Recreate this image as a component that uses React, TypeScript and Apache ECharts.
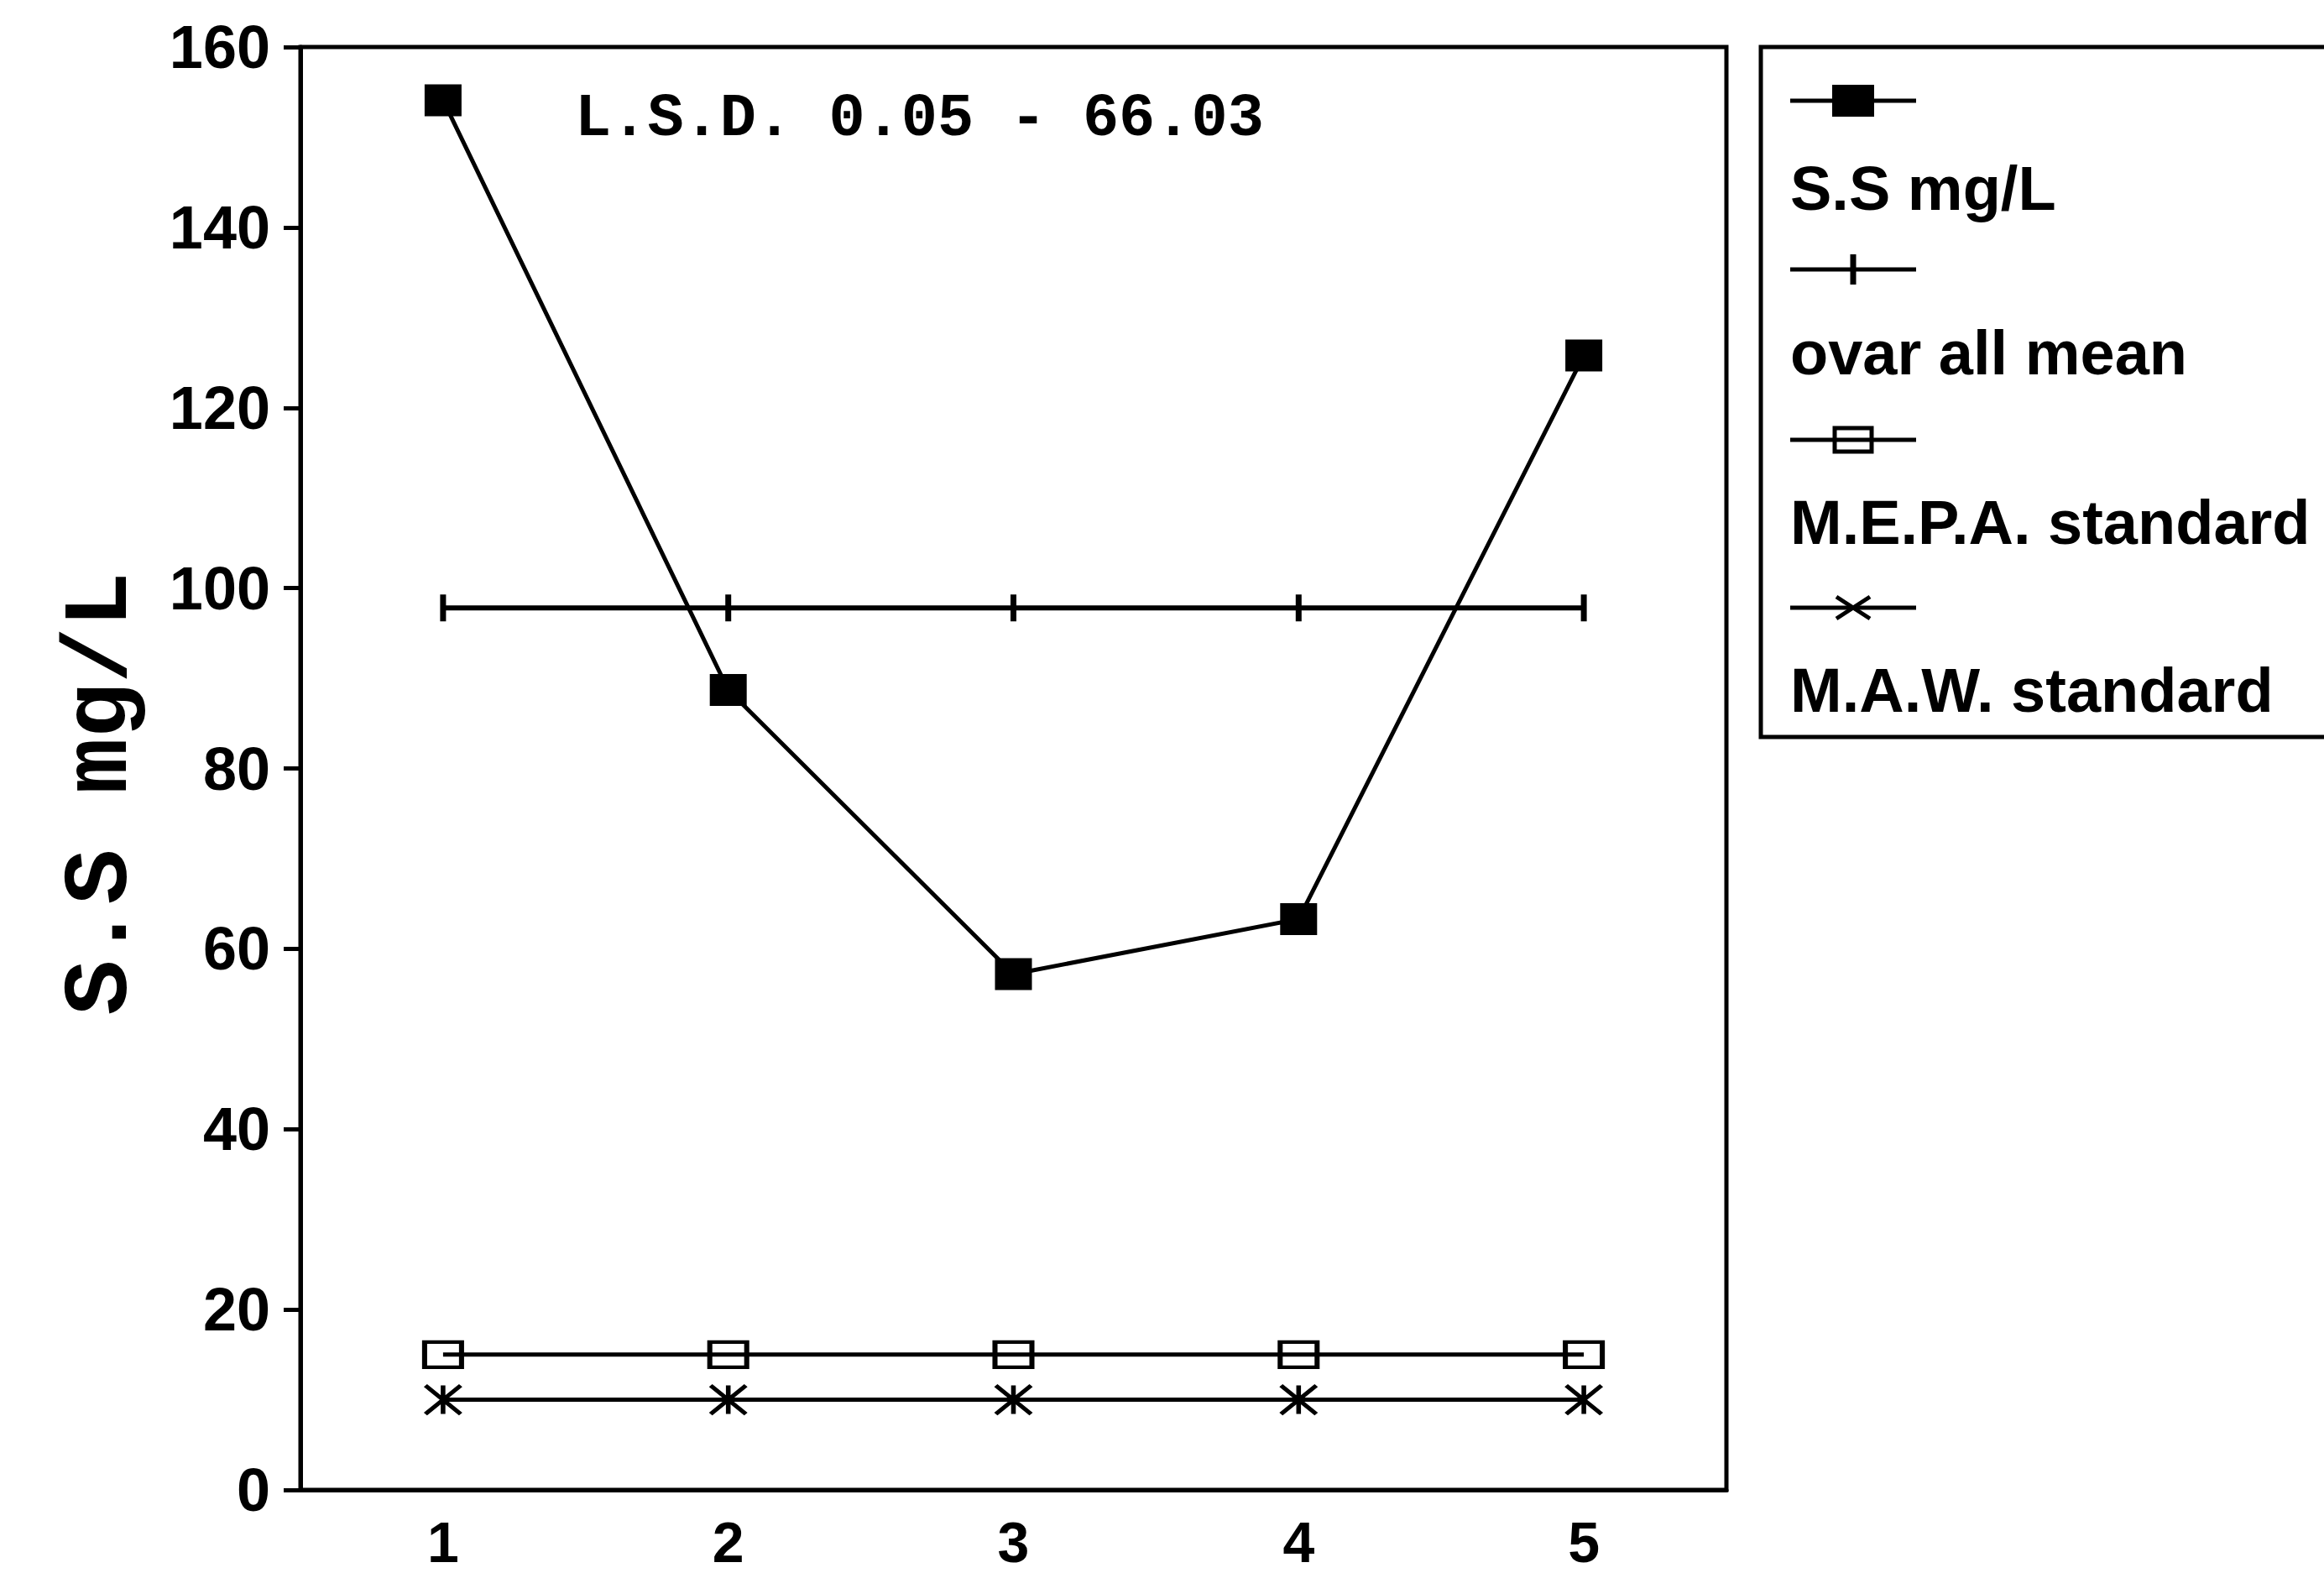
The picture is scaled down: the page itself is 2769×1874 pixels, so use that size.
import React, { useEffect, useRef } from "react";
import * as echarts from "echarts";

const categories = ["1", "2", "3", "4", "5"];
const ssValues = [154.1, 88.7, 57.2, 63.3, 125.8];
const meanValues = [97.8, 97.8, 97.8, 97.8, 97.8];
const mepaValues = [15, 15, 15, 15, 15];
const mawValues = [10, 10, 10, 10, 10];
const seriesNames = ["S.S mg/L", "ovar all mean", "M.E.P.A. standard", "M.A.W. standard"];
const yAxisTitle = "S.S mg/L";
const lsdNote = "L.S.D. 0.05 - 66.03";

const SANS = "'Liberation Sans', Arial, Helvetica, sans-serif";
const MONO = "'Liberation Mono', 'DejaVu Sans Mono', monospace";
const ASTERISK = "path://M-1,-1L1,1M1,-1L-1,1M0,-1L0,1";

export default function App() {
  const ref = useRef<HTMLDivElement>(null);
  useEffect(() => {
    if (!ref.current) return;
    const chart = echarts.init(ref.current, undefined, { renderer: "svg" });

    const lx = 2133;
    const lw = 150;
    const symY = [120, 321, 524, 724];
    const txtY = [224, 420, 622, 822];
    const lineStyle = { stroke: "#000", lineWidth: 5 };
    const cx = lx + lw / 2;
    const legendChildren: any[] = [
      { type: "rect", shape: { x: 2098, y: 56, width: 700, height: 822 }, style: { fill: "none", stroke: "#000", lineWidth: 5 } },
    ];
    symY.forEach((y, i) => {
      legendChildren.push({ type: "line", shape: { x1: lx, y1: y, x2: lx + lw, y2: y }, style: lineStyle });
      legendChildren.push({
        type: "text",
        style: { text: seriesNames[i], x: lx, y: txtY[i], fill: "#000", font: `bold 74px ${SANS}`, verticalAlign: "middle", align: "left" },
      });
    });
    legendChildren.push({ type: "rect", shape: { x: cx - 25, y: symY[0] - 19, width: 50, height: 38 }, style: { fill: "#000" } });
    legendChildren.push({ type: "line", shape: { x1: cx, y1: symY[1] - 18, x2: cx, y2: symY[1] + 18 }, style: { stroke: "#000", lineWidth: 7 } });
    legendChildren.push({ type: "rect", shape: { x: cx - 22, y: symY[2] - 14, width: 44, height: 28 }, style: { fill: "none", stroke: "#000", lineWidth: 5 } });
    legendChildren.push({ type: "line", shape: { x1: cx - 20, y1: symY[3] - 13, x2: cx + 20, y2: symY[3] + 13 }, style: lineStyle });
    legendChildren.push({ type: "line", shape: { x1: cx - 20, y1: symY[3] + 13, x2: cx + 20, y2: symY[3] - 13 }, style: lineStyle });

    const option: any = {
      animation: false,
      backgroundColor: "#fff",
      grid: { left: 358, top: 56, width: 1699, height: 1719, show: true, borderColor: "#000", borderWidth: 5, backgroundColor: "transparent" },
      xAxis: {
        type: "category",
        data: categories,
        boundaryGap: true,
        axisLine: { lineStyle: { color: "#000", width: 5 } },
        axisTick: { alignWithLabel: true, length: 25, lineStyle: { color: "#000", width: 5 } },
        axisLabel: { color: "#000", fontFamily: SANS, fontWeight: "bold", fontSize: 68, margin: 28 },
        splitLine: { show: false },
      },
      yAxis: {
        type: "value",
        min: 0,
        max: 160,
        interval: 20,
        name: yAxisTitle,
        nameLocation: "middle",
        nameRotate: 90,
        nameGap: 183,
        nameTextStyle: { color: "#000", fontFamily: MONO, fontWeight: "bold", fontSize: 110, padding: [0, 60, 0, 0] },
        axisLine: { show: true, lineStyle: { color: "#000", width: 5 } },
        axisTick: { show: true, length: 20, lineStyle: { color: "#000", width: 5 } },
        axisLabel: { color: "#000", fontFamily: SANS, fontWeight: "bold", fontSize: 72, margin: 36 },
        splitLine: { show: false },
      },
      series: [
        {
          name: seriesNames[0], type: "line", data: ssValues,
          symbol: "rect", symbolSize: [44, 38],
          lineStyle: { color: "#000", width: 5 },
          itemStyle: { color: "#000" },
        },
        {
          name: seriesNames[1], type: "line", data: meanValues,
          symbol: "rect", symbolSize: [7, 32],
          lineStyle: { color: "#000", width: 6 },
          itemStyle: { color: "#000" },
        },
        {
          name: seriesNames[2], type: "line", data: mepaValues,
          symbol: "rect", symbolSize: [44, 30],
          lineStyle: { color: "#000", width: 5 },
          itemStyle: { color: "transparent", borderColor: "#000", borderWidth: 5 },
        },
        {
          name: seriesNames[3], type: "line", data: mawValues,
          symbol: ASTERISK, symbolSize: [42, 34],
          lineStyle: { color: "#000", width: 5 },
          itemStyle: { color: "transparent", borderColor: "#000", borderWidth: 5 },
        },
      ],
      graphic: [
        { type: "text", left: 685, top: 106, style: { text: lsdNote, fill: "#000", font: `bold 72px ${MONO}` } },
        { type: "group", children: legendChildren },
      ],
    };
    chart.setOption(option);
    return () => chart.dispose();
  }, []);
  return <div ref={ref} style={{ position: "fixed", left: 0, top: 0, width: 2769, height: 1874, background: "#fff" }} />;
}
